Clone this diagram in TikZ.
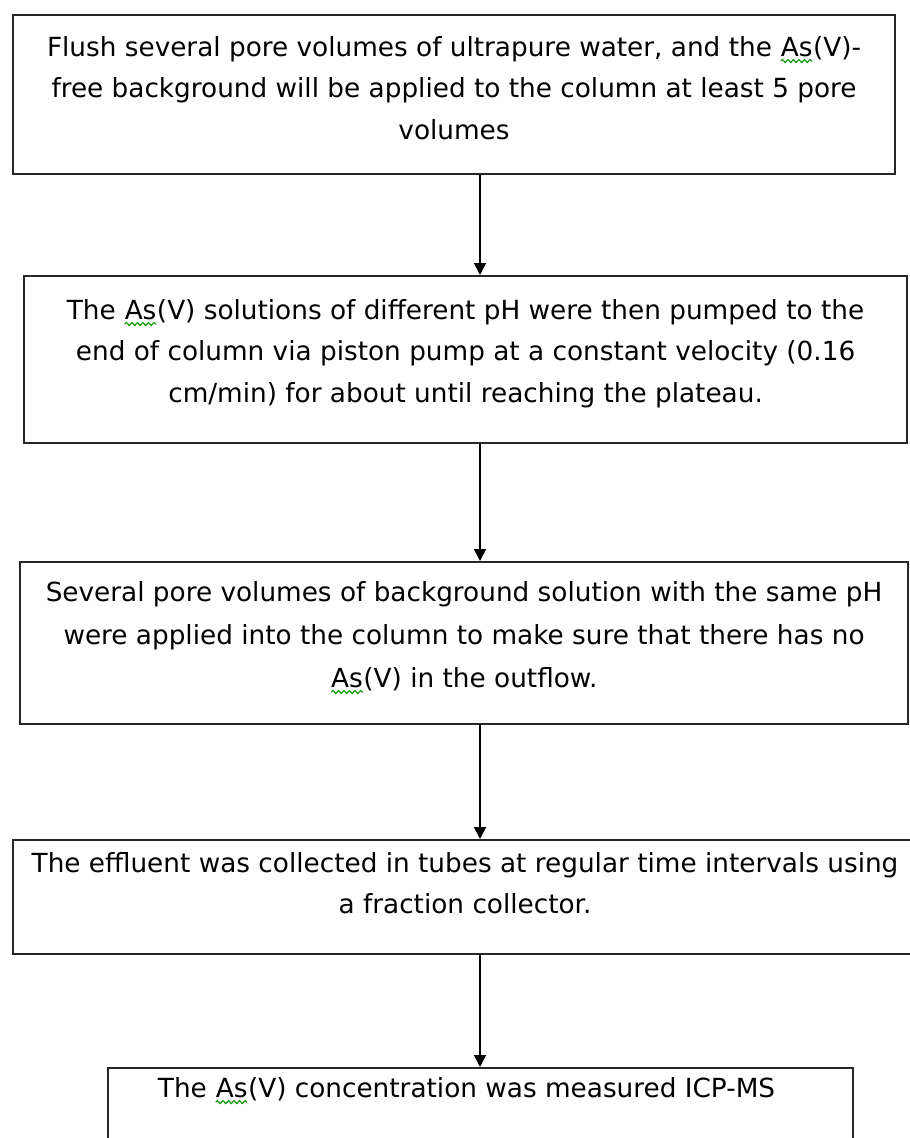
\documentclass[tikz,border=0pt]{standalone}
\usepackage{fontspec}
\setmainfont{DejaVu Sans}
\usetikzlibrary{arrows.meta,decorations.pathmorphing}
\newcommand\spellsq[1]{\tikz[baseline=(sq.base)]{\node[inner sep=0pt,outer sep=0pt] (sq) {#1};
  \draw[green!60!black,line width=1.1pt,decorate,decoration={snake,amplitude=1.5pt,segment length=5.5pt}]
    ([yshift=-5pt]sq.base west) -- ([yshift=-5pt]sq.base east);}}
\newcommand\boxtext[4]{\parbox[c][#1][t]{#2}{\centering\rule{0pt}{#3}#4}}
\begin{document}
\begin{tikzpicture}[x=1pt,y=1pt,
  box/.style={draw=black!85,line width=2.1pt,inner sep=0pt,anchor=north west},
  arr/.style={draw=black,line width=1.8pt,-{Triangle[length=12pt,width=12pt]}},
  font=\fontsize{26.3}{41.5}\selectfont]
\useasboundingbox (0,0) rectangle (910,-1138);
\coordinate (ax) at (480,0);
\node[box] (b1) at (12,-14) {\boxtext{159pt}{882pt}{41pt}{Flush several pore volumes of ultrapure water, and the \spellsq{As}(V)-\\ free background will be applied to the column at least 5 pore\\ volumes}};
\node[box] (b2) at (23,-275) {\boxtext{167pt}{883pt}{43pt}{The \spellsq{As}(V) solutions of different pH were then pumped to the\\ end of column via piston pump at a constant velocity (0.16\\ cm/min) for about until reaching the plateau.}};
\node[box] (b3) at (19,-561) {\boxtext{162pt}{888pt}{39pt}{Several pore volumes of background solution with the same pH\\[1.5pt] were applied into the column to make sure that there has no\\[1.5pt] \spellsq{As}(V) in the outflow.}};
\node[box] (b4) at (12,-839) {\boxtext{114pt}{904pt}{32pt}{The effluent was collected in tubes at regular time intervals using\\ a fraction collector.}};
\node[box] (b5) at (107,-1067) {\boxtext{100pt}{745pt}{29pt}{The \spellsq{As}(V) concentration was measured ICP-MS\hspace*{28pt}}};
\draw[arr] (b1.south -| ax) -- (b2.north -| ax);
\draw[arr] (b2.south -| ax) -- (b3.north -| ax);
\draw[arr] (b3.south -| ax) -- (b4.north -| ax);
\draw[arr] (b4.south -| ax) -- (b5.north -| ax);
\end{tikzpicture}
\end{document}
